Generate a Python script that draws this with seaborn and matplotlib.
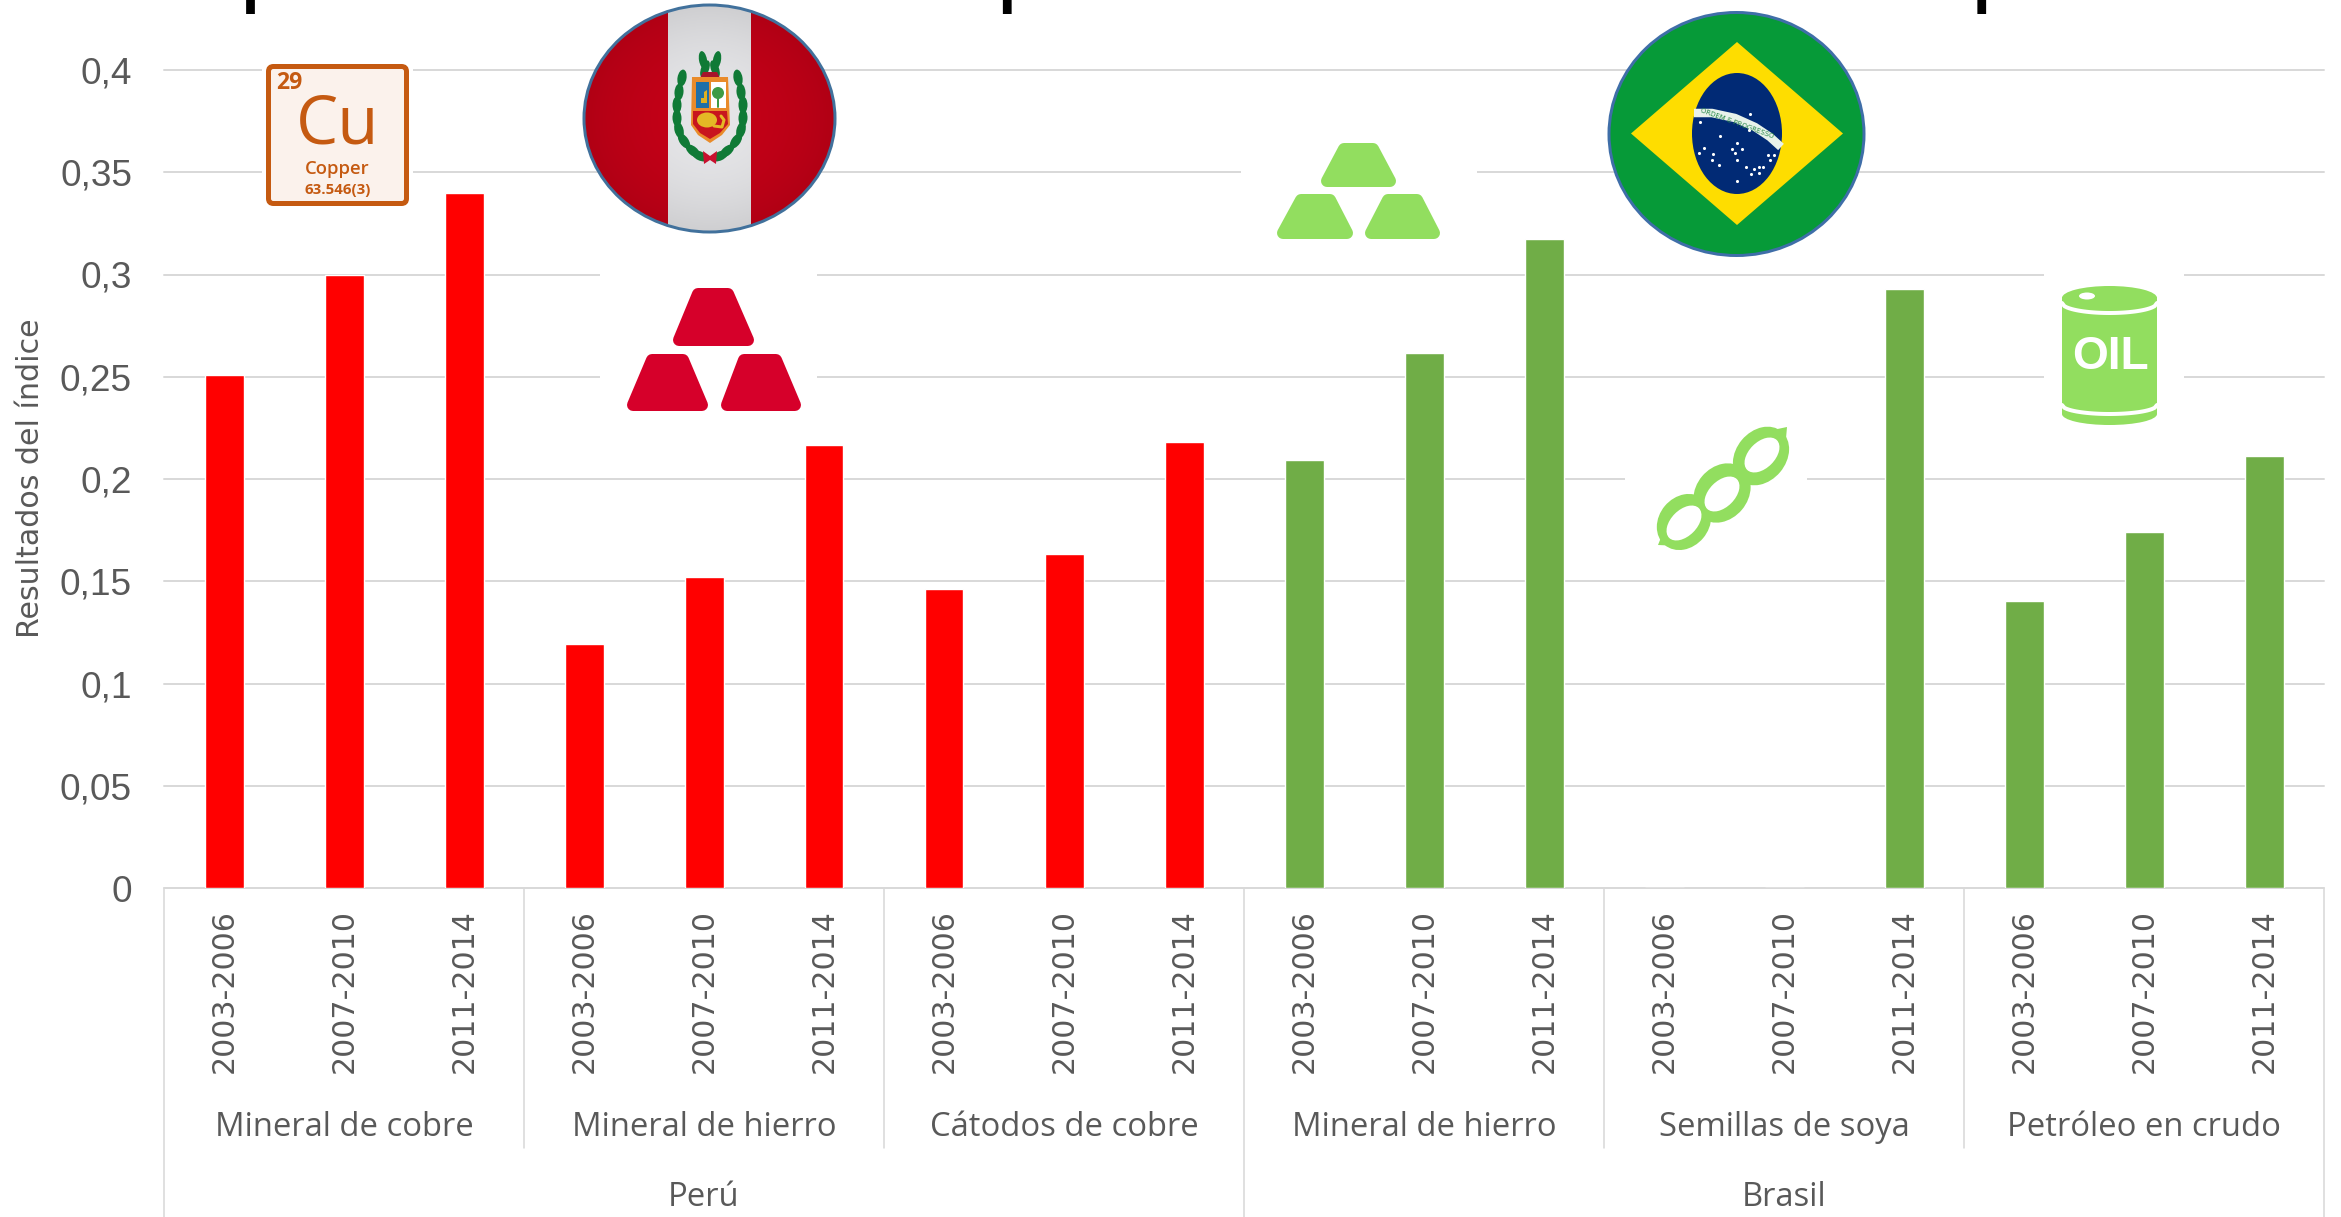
import numpy as np
import pandas as pd
import seaborn as sns
from matplotlib import pyplot as plt
from matplotlib.patches import Ellipse, Polygon, Rectangle, FancyBboxPatch

WIDTH = 2341
HEIGHT = 1217
PT = 0.72  # pixels to points at dpi 100

# Data
periods = ["2003-2006", "2007-2010", "2011-2014"]
countries = ["Perú", "Brasil"]
products_peru = ["Mineral de cobre", "Mineral de hierro", "Cátodos de cobre"]
products_brasil = ["Mineral de hierro", "Semillas de soya", "Petróleo en crudo"]
peru_values = [0.251, 0.300, 0.340, 0.1193, 0.1522, 0.2164, 0.1464, 0.1631, 0.218]
brasil_values = [0.2091, 0.2617, 0.3172, 0.0, 0.0, 0.2931, 0.1405, 0.1741, 0.2113]
y_ticks = [0, 0.05, 0.1, 0.15, 0.2, 0.25, 0.3, 0.35, 0.4]
y_tick_labels = ["0", "0,05", "0,1", "0,15", "0,2", "0,25", "0,3", "0,35", "0,4"]
# only the foot of the title is inside the picture
title_text = "Índice por bienes básicos a la exportación total del Brasil en comparación"

TEXT = "#595959"
GRID = "#D9D9D9"

sns.set_style("white")
plt.rcParams["font.family"] = ["Liberation Sans", "DejaVu Sans"]

rows = []
for country, products, values in [("Perú", products_peru, peru_values), ("Brasil", products_brasil, brasil_values)]:
    for i, value in enumerate(values):
        product = products[i // 3]
        rows.append({"slot": f"{country}|{product}|{periods[i % 3]}", "pais": country, "valor": value})
df = pd.DataFrame(rows)

fig = plt.figure(figsize=(WIDTH / 100, HEIGHT / 100), dpi=100, facecolor="white")
ax = fig.add_axes([164 / WIDTH, 1 - 888 / HEIGHT, 2160 / WIDTH, 818 / HEIGHT])

sns.barplot(data=df, x="slot", y="valor", hue="pais", palette={"Perú": "#FF0000", "Brasil": "#70AD47"},
            dodge=False, width=0.325, legend=False, saturation=1, ax=ax)

ax.set_xlim(-0.5, len(df) - 0.5)
ax.set_ylim(0, 0.4)
sns.despine(ax=ax, left=True, bottom=True, top=True, right=True)
ax.set_axisbelow(True)
ax.grid(axis="y", color=GRID, lw=2 * PT)
ax.grid(axis="x", visible=False)
for line in ax.get_ygridlines():
    line.set_clip_on(False)

ax.set_yticks(y_ticks)
ax.set_yticklabels(y_tick_labels, fontsize=37 * PT, color=TEXT)
ax.tick_params(axis="y", length=0, pad=32 * PT)
ax.set_xticks(range(len(df)))
ax.set_xticklabels(periods * 6, rotation=90, fontsize=30 * PT, color=TEXT, family="DejaVu Sans")
ax.tick_params(axis="x", length=0, pad=21 * PT)
ax.set_xlabel("")
ax.set_ylabel("")
fig.text(31 / WIDTH, 1 - 478 / HEIGHT, "Resultados del índice", rotation=90, ha="center", va="center",
         fontsize=30 * PT, color=TEXT, family="DejaVu Sans")

# multi level axis below the bars
trans = ax.get_xaxis_transform()
for k in range(7):
    x = k * 3 - 0.5
    bottom = -0.402 if k % 3 == 0 else -0.318
    ax.plot([x, x], [0, bottom], transform=trans, clip_on=False, color=GRID, lw=1.6 * PT)
for k, product in enumerate(products_peru + products_brasil):
    ax.annotate(product, xy=(k * 3 + 1, HEIGHT - 1128), xycoords=("data", "figure pixels"), ha="center", va="center",
                fontsize=32.8 * PT, color=TEXT, family="Open Sans")
for k, country in enumerate(countries):
    ax.annotate(country, xy=(k * 9 + 4, HEIGHT - 1198), xycoords=("data", "figure pixels"), ha="center", va="center",
                fontsize=32.8 * PT, color=TEXT, family="Open Sans")

fig.text(44 / WIDTH, 1 + 0.5 / HEIGHT, title_text, ha="left", va="baseline", fontsize=60 * PT, fontweight="bold",
         color="black", family="Open Sans")

# overlay in pixel coordinates for the pictures
ov = fig.add_axes([0, 0, 1, 1], facecolor="none")
ov.set_xlim(0, WIDTH)
ov.set_ylim(HEIGHT, 0)
ov.axis("off")


def mask(x0, y0, x1, y1):
    ov.add_patch(Rectangle((x0, y0), x1 - x0, y1 - y0, fc="white", ec="none", zorder=1))


def ingot(bottom_l, bottom_r, top_l, top_r, y_top, y_bottom, color):
    # rounded corners come from the thick outline
    r = 6
    pts = [(top_l + r, y_top + r), (top_r - r, y_top + r), (bottom_r - r, y_bottom - r), (bottom_l + r, y_bottom - r)]
    ov.add_patch(Polygon(pts, closed=True, fc=color, ec=color, lw=2 * r * PT, joinstyle="round", zorder=3))


# Cu element card
mask(262, 60, 413, 210)
ov.add_patch(FancyBboxPatch((268.5, 66.5), 138, 137, boxstyle="round,pad=0,rounding_size=5", fc="#FBF2EC", ec="#C55A11",
                            lw=5 * PT, zorder=3))
ov.text(276, 83, "29", fontsize=23 * PT, color="#C55A11", ha="left", va="center", family="Open Sans",
        fontweight="bold", zorder=4)
ov.text(338, 126, "Cu", fontsize=67 * PT, color="#C55A11", ha="center", va="center", family="Open Sans",
        fontweight="medium", zorder=4)
ov.text(337, 169, "Copper", fontsize=18.5 * PT, color="#C55A11", ha="center", va="center", family="Open Sans",
        fontweight="semibold", zorder=4)
ov.text(338, 190, "63.546(3)", fontsize=15 * PT, color="#C55A11", ha="center", va="center", family="Open Sans",
        fontweight="bold", zorder=4)

# Peru flag
peru_cx, peru_cy, peru_rx, peru_ry = 709.5, 118.5, 125.5, 113.5
xx, yy = np.meshgrid(np.linspace(-1, 1, 251), np.linspace(-1, 1, 227))
dist = np.clip(np.sqrt(xx ** 2 + yy ** 2), 0, 1)
flag = np.zeros(xx.shape + (3,))
side = np.abs(xx) > (752 - 668) / 2 / peru_rx
flag[side] = np.array([0.77, 0.0, 0.09])
flag[~side] = np.array([0.90, 0.90, 0.91])
flag = flag * (1 - 0.10 * dist[..., None] ** 2)
im = ov.imshow(flag, extent=(peru_cx - peru_rx, peru_cx + peru_rx, peru_cy + peru_ry, peru_cy - peru_ry),
               aspect="auto", zorder=3)
clip = Ellipse((peru_cx, peru_cy), 2 * peru_rx, 2 * peru_ry, transform=ov.transData)
im.set_clip_path(clip)
ov.set_xlim(0, WIDTH)
ov.set_ylim(HEIGHT, 0)
ov.add_patch(Ellipse((peru_cx, peru_cy), 2 * peru_rx, 2 * peru_ry, fc="none", ec="#41719C", lw=3 * PT, zorder=4))

# coat of arms, laurel first
leaf = "#107A36"
for dx, y, ang in [(28, 78, 80), (31, 92, 85), (33, 105, 90), (33, 118, 92), (31, 130, 105), (26, 141, 125), (17, 151, 140), (10, 156, 155)]:
    ov.add_patch(Ellipse((710 - dx, y), 17, 9, angle=-ang, fc=leaf, ec="none", zorder=5))
    ov.add_patch(Ellipse((710 + dx, y), 17, 9, angle=ang, fc=leaf, ec="none", zorder=5))
for dx, y, ang in [(7, 60, 80), (5, 69, 110)]:
    ov.add_patch(Ellipse((710 - dx, y), 18, 8, angle=ang, fc=leaf, ec="none", zorder=5))
    ov.add_patch(Ellipse((710 + dx, y), 18, 8, angle=-ang, fc=leaf, ec="none", zorder=5))
ov.add_patch(Polygon([(703, 72), (717, 72), (720, 78), (700, 78)], fc="#A5152B", ec="none", zorder=5))
ov.add_patch(Polygon([(703, 151), (710, 156), (717, 151), (716, 164), (710, 160), (704, 164)], fc="#C8102E", ec="none", zorder=5))
shield = [(692, 77), (728, 77), (730, 125), (722, 135), (710, 143), (698, 135), (691, 125)]
ov.add_patch(Polygon(shield, fc="#E98B2A", ec="none", zorder=5))
ov.add_patch(Rectangle((696, 82), 13, 26, fc="#1F6FA8", ec="none", zorder=6))
ov.add_patch(Rectangle((711, 82), 15, 26, fc="white", ec="none", zorder=6))
ov.add_patch(Polygon([(693, 111), (727, 111), (728, 124), (720, 133), (710, 139), (700, 133), (693, 124)], fc="#C8151E", ec="none", zorder=6))
ov.add_patch(Polygon([(701, 103), (707, 103), (707, 90), (704, 92), (704, 98), (701, 98)], fc="#E0B020", ec="none", zorder=7))
ov.plot([718, 718], [107, 92], color="#3E9B45", lw=2 * PT, zorder=7)
ov.add_patch(Ellipse((718, 93), 12, 12, fc="#3E9B45", ec="none", zorder=7))
ov.add_patch(Ellipse((707, 120), 20, 15, fc="#E4B825", ec="none", zorder=7))
ov.plot([714, 722, 724, 721], [126, 127, 120, 116], color="#E4B825", lw=3 * PT, zorder=7)

# red ingots
mask(600, 262, 817, 420)
for args in [(673, 754, 692, 734, 288, 346), (627, 708, 646, 689, 354, 411), (721, 801, 738, 782, 354, 411)]:
    ingot(*args, "#D6002A")

# green ingots
mask(1241, 150, 1477, 195)
for args in [(1321, 1396, 1338, 1379, 143, 187), (1277, 1353, 1295, 1336, 194, 239), (1365, 1440, 1382, 1423, 194, 239)]:
    ingot(*args, "#92DE5F")

# Brazil flag
ov.add_patch(Ellipse((1736.5, 134), 255, 243, fc="#069A38", ec="#3F6EA8", lw=3 * PT, zorder=3))
ov.add_patch(Polygon([(1631, 133.5), (1737, 42), (1843, 133.5), (1737, 225)], fc="#FEDD00", ec="none", zorder=4))
ov.add_patch(Ellipse((1737, 133.5), 90, 121, fc="#012A75", ec="none", zorder=5))
band_x = [1694, 1712, 1735, 1755, 1770, 1781]
band_y = [113, 113, 118, 127, 137, 147]
ov.plot(band_x, band_y, color="#E8F2EA", lw=8.5 * PT, solid_capstyle="butt", zorder=6)
ov.text(1737, 123, "ORDEM E PROGRESSO", rotation=-20, fontsize=7 * PT, color="#2A8A4A", ha="center", va="center",
        family="DejaVu Sans", zorder=7)
stars_x = [1700, 1720, 1704, 1699, 1713, 1712, 1719, 1737, 1732, 1742, 1735, 1737, 1746, 1754, 1759, 1763, 1768, 1770, 1774, 1759, 1751, 1737, 1750, 1749]
stars_y = [122, 136, 148, 153, 154, 160, 165, 143, 149, 149, 153, 160, 167, 169, 167, 167, 155, 160, 155, 173, 174, 181, 114, 130]
ov.scatter(stars_x, stars_y, s=5, color="white", linewidths=0, zorder=7)

# soy pod
mask(1625, 470, 1807, 490)
green = "#92DE5F"
for cx, cy, w, h in [(1684, 522, 60, 50), (1722, 493, 64, 52), (1761, 456, 64, 50)]:
    ov.add_patch(Ellipse((cx, cy), w, h, angle=-50, fc=green, ec="none", zorder=3))
ov.add_patch(Polygon([(1787, 427), (1785, 450), (1768, 431)], fc=green, ec="none", zorder=3))
ov.add_patch(Polygon([(1658, 545), (1680, 546), (1664, 530)], fc=green, ec="none", zorder=3))
for cx, cy in [(1684, 523), (1722, 494), (1762, 455)]:
    ov.add_patch(Ellipse((cx, cy), 42, 26, angle=-45, fc="white", ec="none", zorder=4))

# oil drum
mask(2044, 273, 2184, 430)
ov.add_patch(Rectangle((2062, 297), 95, 117, fc=green, ec="none", zorder=3))
ov.add_patch(Ellipse((2109.5, 298), 95, 24, fc=green, ec="none", zorder=3))
ov.add_patch(Ellipse((2109.5, 414), 95, 22, fc=green, ec="none", zorder=3))
ov.add_patch(Ellipse((2087, 296), 16, 7, fc="white", ec="none", zorder=4))
arc_x = np.linspace(2062, 2157, 40)
lid_y = 303 + 10 * np.sqrt(np.clip(1 - ((arc_x - 2109.5) / 47.5) ** 2, 0, 1))
foot_y = 405 + 9 * np.sqrt(np.clip(1 - ((arc_x - 2109.5) / 47.5) ** 2, 0, 1))
ov.plot(arc_x, lid_y, color="white", lw=4 * PT, zorder=4)
ov.plot(arc_x, foot_y, color="white", lw=4 * PT, zorder=4)
ov.text(2110, 357, "OIL", fontsize=46 * PT, color="white", ha="center", va="center", fontweight="bold",
        family=["Liberation Sans Narrow", "Liberation Sans"], zorder=5)

fig.savefig("out.png", dpi=100)
